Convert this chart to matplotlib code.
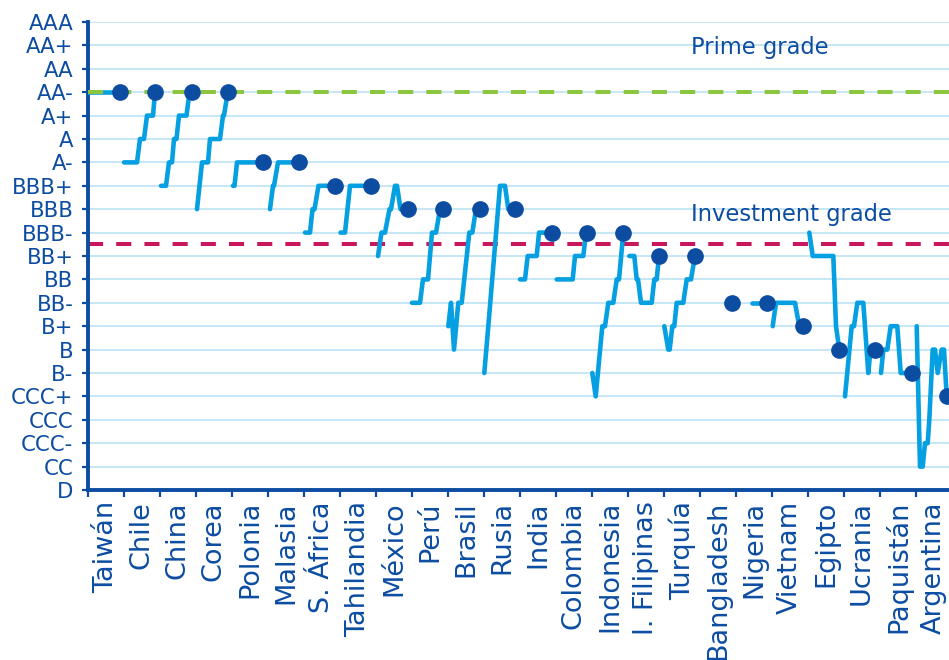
import matplotlib
matplotlib.use("Agg")
import matplotlib.pyplot as plt

plt.rcParams["font.family"] = ["DejaVu Sans"]

# Rating scale, lowest to highest
RATINGS = ["D", "CC", "CCC-", "CCC", "CCC+", "B-", "B", "B+", "BB-", "BB", "BB+",
           "BBB-", "BBB", "BBB+", "A-", "A", "A+", "AA-", "AA", "AA+", "AAA"]

COUNTRIES = ["Taiwán", "Chile", "China", "Corea", "Polonia", "Malasia", "S. África",
             "Tahilandia", "México", "Perú", "Brasil", "Rusia", "India", "Colombia",
             "Indonesia", "I. Filipinas", "Turquía", "Bangladesh", "Nigeria", "Vietnam",
             "Egipto", "Ucrania", "Paquistán", "Argentina"]

# Rating histories: (year, rating); the last entry is the current rating
TAIWAN = [(1985, "AA-"), (2017, "AA-")]
CHILE = [(1985, "A-"), (1998, "A-"), (2001, "A"), (2005, "A"), (2008, "A+"), (2014, "A+"),
         (2016, "AA-")]
CHINA = [(1986, "BBB+"), (1991, "BBB+"), (1994, "A-"), (1997, "A-"), (1999, "A"),
         (2001.5, "A"), (2004, "A+"), (2011.5, "A+"), (2014.5, "AA-"), (2016.7, "AA-")]
COREA = [(1986, "BBB"), (1991, "A-"), (1997, "A-"), (1999, "A"), (2009, "A"), (2012, "A+"),
         (2013, "A+"), (2016.7, "AA-")]
POLONIA = [(1986, "BBB+"), (1987.5, "BBB+"), (1990, "A-"), (2016.3, "A-")]
MALASIA = [(1987, "BBB"), (1990, "BBB+"), (1991, "BBB+"), (1995, "A-"), (2016.3, "A-")]
S_AFRICA = [(1986, "BBB-"), (1991, "BBB-"), (1993.5, "BBB"), (1995.5, "BBB"),
            (1999.5, "BBB+"), (2016, "BBB+")]
TAILANDIA = [(1985.5, "BBB-"), (1990, "BBB-"), (1995, "BBB+"), (2016, "BBB+")]
MEXICO = [(1987, "BB+"), (1990.5, "BBB-"), (1994, "BBB-"), (1998.5, "BBB"), (2000, "BBB"),
          (2004, "BBB+"), (2006, "BBB+"), (2009.5, "BBB"), (2016.7, "BBB")]
PERU = [(1985, "BB-"), (1993, "BB-"), (1996, "BB"), (2001, "BB"), (2005, "BBB-"),
        (2009, "BBB-"), (2013, "BBB"), (2016.3, "BBB")]
BRASIL = [(1985.3, "B+"), (1988, "BB-"), (1991, "B"), (1995.3, "BB-"), (1998.7, "BB-"),
          (2006.3, "BBB-"), (2009.3, "BBB-"), (2013, "BBB"), (2017, "BBB")]
RUSIA = [(1985.3, "B-"), (1989.3, "B+"), (2001, "BBB+"), (2006, "BBB+"), (2009.3, "BBB"),
         (2016, "BBB")]
INDIA = [(1985, "BB"), (1990, "BB"), (1992.7, "BB+"), (2001.7, "BB+"), (2004, "BBB-"),
         (2016.7, "BBB-")]
COLOMBIA = [(1985.7, "BB"), (2001.7, "BB"), (2004, "BB+"), (2012.3, "BB+"), (2015, "BBB-"),
            (2016.3, "BBB-")]
INDONESIA = [(1985.3, "B-"), (1988.7, "CCC+"), (1995.3, "B+"), (1998, "B+"), (2001.3, "BB-"),
             (2006.3, "BB-"), (2009.7, "BB"), (2012, "BB"), (2016.3, "BBB-")]
FILIPINAS = [(1986.3, "BB+"), (1991.3, "BB+"), (1993.7, "BB"), (1995, "BB"), (1998, "BB-"),
             (2008.7, "BB-"), (2011.3, "BB"), (2013.7, "BB"), (2016, "BB+")]
TURQUIA = [(1985.3, "B+"), (1989.3, "B"), (1990.7, "B"), (1993.3, "B+"), (1995.3, "B+"),
           (1997.7, "BB-"), (2004.3, "BB-"), (2007.7, "BB"), (2012, "BB"), (2016, "BB+")]
BANGLADESH = [(2016.7, "BB-")]
NIGERIA = [(2000.7, "BB-"), (2015.7, "BB-")]
VIETNAM = [(1985.7, "B+"), (1989, "BB-"), (2008, "BB-"), (2012.3, "B+"), (2016.3, "B+")]
EGIPTO = [(1986.3, "BBB-"), (1989.7, "BB+"), (2010.3, "BB+"), (2013, "B+"), (2016.3, "B")]
UCRANIA = [(1986, "CCC+"), (1992.7, "B+"), (1995, "B+"), (1998.3, "BB-"), (2004.3, "BB-"),
           (2009.3, "B-"), (2011.5, "B"), (2016, "B")]
PAQUISTAN = [(1986, "B-"), (1988.3, "B"), (1992.3, "B"), (1995.7, "B+"), (2002.3, "B+"),
             (2005.7, "B-"), (2016.7, "B-")]
ARGENTINA = [(1985.7, "B+"), (1989, "CC"), (1991.7, "CC"), (1994, "CCC-"), (1996.7, "CCC-"),
             (1998.3, "CCC"), (2001.7, "B"), (2004, "B"), (2006.7, "B-"), (2010.7, "B"),
             (2013, "B"), (2015.7, "CCC+")]

HISTORIES = [TAIWAN, CHILE, CHINA, COREA, POLONIA, MALASIA, S_AFRICA, TAILANDIA, MEXICO,
             PERU, BRASIL, RUSIA, INDIA, COLOMBIA, INDONESIA, FILIPINAS, TURQUIA,
             BANGLADESH, NIGERIA, VIETNAM, EGIPTO, UCRANIA, PAQUISTAN, ARGENTINA]

PRIME_LEVEL = "AA-"
INVESTMENT_LEVEL = 10.5  # boundary between BBB- and BB+

# Time window drawn inside each country's slot
YEAR_START = 1985
SLOT_YEARS = 36.0

NAVY = "#0C4DA2"
CYAN = "#05A0E2"
GRID = "#C6E7F7"
GREEN = "#8CC63F"
RED = "#C8175B"

fig = plt.figure(figsize=(9.49, 6.60), dpi=100)
ax = fig.add_axes([88 / 949, 170 / 660, 864 / 949, 468 / 660])
ax.set_xlim(0, len(COUNTRIES))
ax.set_ylim(0, len(RATINGS) - 1)

# Horizontal grid at every rating notch
for lvl in range(1, len(RATINGS)):
    ax.axhline(lvl, color=GRID, lw=1.4, zorder=1)

# Investment-grade threshold (under the histories)
ax.axhline(INVESTMENT_LEVEL, color=RED, lw=2.9, dashes=(3.75, 3.25), zorder=2)

level = {r: i for i, r in enumerate(RATINGS)}
for i, hist in enumerate(HISTORIES):
    xs = [i + (yr - YEAR_START) / SLOT_YEARS for yr, _ in hist]
    ys = [level[r] for _, r in hist]
    if len(xs) > 1:
        ax.plot(xs, ys, color=CYAN, lw=3.3, solid_capstyle="round",
                solid_joinstyle="round", zorder=3)
    ax.plot(xs[-1], ys[-1], "o", color=NAVY, ms=11, mec=NAVY, zorder=6, clip_on=False)

# Prime-grade threshold
ax.axhline(level[PRIME_LEVEL], color=GREEN, lw=2.9, dashes=(3.75, 3.25), zorder=4)

ax.text(16.74, 18.62, "Prime grade", color=NAVY, fontsize=16.3, va="baseline", ha="left")
ax.text(16.74, 11.5, "Investment grade", color=NAVY, fontsize=16.3, va="baseline",
        ha="left")

# Axes styling
for side in ("top", "right"):
    ax.spines[side].set_visible(False)
for side in ("left", "bottom"):
    ax.spines[side].set_color(NAVY)
    ax.spines[side].set_linewidth(2.8)

ax.set_yticks(range(len(RATINGS)))
ax.set_yticklabels(RATINGS)
ax.tick_params(axis="y", colors=NAVY, labelsize=15.3, length=4.5, width=1.6, pad=6,
               direction="out")

ax.set_xticks(range(len(COUNTRIES) + 1))
ax.set_xticklabels([])
ax.set_xticks([i + 0.5 for i in range(len(COUNTRIES))], minor=True)
ax.set_xticklabels(COUNTRIES, minor=True, rotation=90, va="top", ha="center")
ax.tick_params(axis="x", which="major", colors=NAVY, length=5, width=1.6, direction="out")
ax.tick_params(axis="x", which="minor", length=0, labelsize=19.5, labelcolor=NAVY, pad=8)

fig.savefig("out.png", dpi=100)
